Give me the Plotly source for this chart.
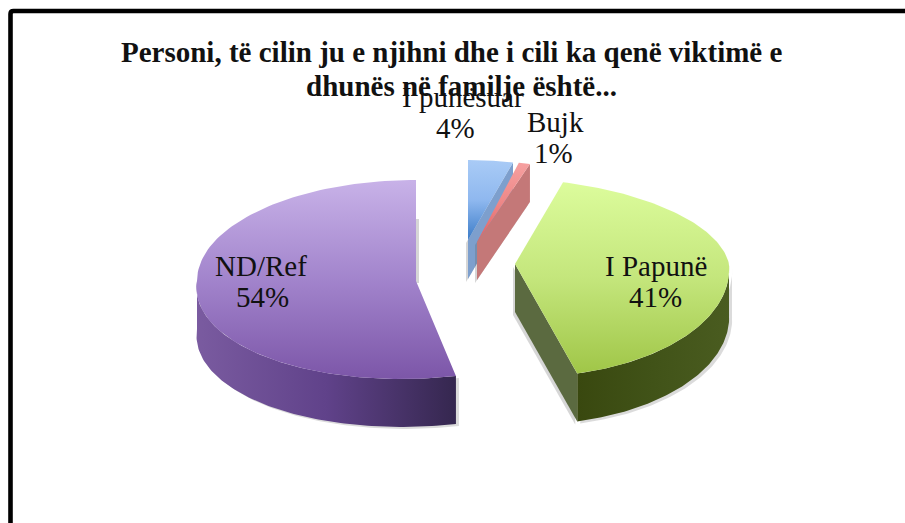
import numpy as np
import plotly.graph_objects as go

categories = ["I punësuar", "Bujk", "I Papunë", "ND/Ref"]
values = [4, 1, 41, 54]
title_lines = ["Personi, të cilin ju e njihni dhe i cili ka qenë viktimë e", "dhunës në familje është..."]

# per-slice projection: apex x, apex y, x radius, back y radius, front y radius, back shear, front shear, depth
geom = {
    "I punësuar": dict(ax=468, ay=240, rx=181, rb=80, rf=80, sb=0, sf=0, d=39),
    "Bujk": dict(ax=477, ay=242, rx=195, rb=82, rf=82, sb=-7.7, sf=0, d=38),
    "I Papunë": dict(ax=515, ay=264, rx=214, rb=86, rf=113, sb=-19, sf=-9.3, d=48),
    "ND/Ref": dict(ax=416, ay=281, rx=219, rb=101, rf=98, sb=0, sf=15, d=48),
}
style = {
    "I punësuar": dict(top=["#a9cbf6", "#8fb8ef", "#3c7cc8"], edge="#7d9fcd"),
    "Bujk": dict(top=["#f6a0a0", "#ee8888", "#e06060"], edge="#c47878"),
    "I Papunë": dict(top=["#dcfc9c", "#c4e67c", "#a0c648"], edge="#5b6a40",
                     wall=["#4a5c20", "#415318", "#39480f"]),
    "ND/Ref": dict(top=["#c8b2e8", "#a284cc", "#7c56a8"], edge="#3c2b58",
                   wall=["#7a5ba0", "#60428a", "#35274f"]),
}
# centre x of first line, centre x of second line, centre y of first line
label_pos = {"I punësuar": (463, 455, 97), "Bujk": (555, 553, 122), "I Papunë": (656, 655, 266), "ND/Ref": (261, 262, 266)}
LABEL_GAP = 31
title_pos = [(451, 52), (461, 86)]


def pt(g, deg):
    t = np.radians(np.asarray(deg, dtype=float))
    X, Y = np.sin(t), np.cos(t)
    x = g["ax"] + X * g["rx"] + Y * np.where(Y > 0, g["sb"], g["sf"])
    y = g["ay"] - Y * np.where(Y > 0, g["rb"], g["rf"])
    return x, y


def stops(cols):
    return [[i / (len(cols) - 1), c] for i, c in enumerate(cols)]


def poly(fig, x, y, color=None, grad=None, kind="vertical", span=None):
    kw = dict(x=np.asarray(x), y=np.asarray(y), mode="lines", line=dict(width=0), fill="toself",
              hoverinfo="skip", showlegend=False)
    if grad:
        kw["fillgradient"] = dict(type=kind, colorscale=stops(grad), start=span[0], stop=span[1])
    else:
        kw["fillcolor"] = color
    fig.add_trace(go.Scatter(**kw))


fig = go.Figure()
angles = {}
a = 0.0
for c, v in zip(categories, values):
    angles[c] = (a, a + v * 3.6)
    a += v * 3.6

for c in ["ND/Ref", "I Papunë", "I punësuar", "Bujk"]:
    g, s = geom[c], style[c]
    a0, a1 = angles[c]
    th = np.linspace(a0, a1, 120)
    x, y = pt(g, th)
    d = g["d"]

    if c in ("ND/Ref", "I Papunë"):
        lo, hi = (a0, 270.0) if c == "ND/Ref" else (90.0, a1)
        w = np.linspace(lo, hi, 100)
        wx, wy = pt(g, w)
        poly(fig, [*(wx + 3), *(wx + 3)[::-1]], [*(wy + 2), *(wy + d + 2)[::-1]], color="rgba(90,90,90,0.22)")
        poly(fig, [*wx, *wx[::-1]], [*wy, *(wy + d)[::-1]], grad=s["wall"], kind="horizontal",
             span=(float(wx.min()), float(wx.max())) if c == "ND/Ref" else (float(wx.max()), float(wx.min())))
    if c == "ND/Ref":
        # faint shadow falling on the inner cut of the large slice
        poly(fig, [g["ax"], g["ax"] + 3, g["ax"] + 3, g["ax"]], [g["ay"] - 62, g["ay"] - 62, g["ay"] + 2, g["ay"] + 2],
             color="rgba(90,90,90,0.25)")
    ex, ey = pt(g, a1 if c != "ND/Ref" else a0)
    ex, ey = float(ex), float(ey)
    if c != "ND/Ref":
        poly(fig, [g["ax"] - 2, ex - 2, ex - 2, g["ax"] - 2], [g["ay"] + 3, ey + 3, ey + d + 3, g["ay"] + d + 3],
             color="rgba(90,90,90,0.25)")
        poly(fig, [g["ax"], ex, ex, g["ax"]], [g["ay"], ey, ey + d, g["ay"] + d], color=s["edge"])
    poly(fig, [g["ax"], *x, g["ax"]], [g["ay"], *y, g["ay"]], grad=s["top"], kind="vertical",
         span=(float(y.min()), float(max(y.max(), g["ay"]))))

for c, v in zip(categories, values):
    x1, x2, ly = label_pos[c]
    fig.add_annotation(x=x1, y=ly, text=c, showarrow=False,
                       font=dict(family="Liberation Serif", size=29, color="#111111"))
    fig.add_annotation(x=x2, y=ly + LABEL_GAP, text=f"{v}%", showarrow=False,
                       font=dict(family="Liberation Serif", size=29, color="#111111"))

for line, (tx, ty) in zip(title_lines, title_pos):
    fig.add_annotation(x=tx, y=ty, text=f"<b>{line}</b>", showarrow=False,
                       font=dict(family="Liberation Serif", size=29, color="#111111"))

fig.add_shape(type="path", path="M 10.5 540 L 10.5 14 Q 10.5 11 13.5 11 L 920 11",
              line=dict(color="#000000", width=4.6), layer="above")

fig.update_layout(
    width=905, height=523, margin=dict(l=0, r=0, t=0, b=0), paper_bgcolor="white", plot_bgcolor="white",
    xaxis=dict(range=[0, 905], visible=False, fixedrange=True),
    yaxis=dict(range=[523, 0], visible=False, fixedrange=True),
    showlegend=False,
)
fig.write_html("out.html", config={"displayModeBar": False},
               post_script="document.body.style.margin='0';document.body.style.overflow='hidden';")
